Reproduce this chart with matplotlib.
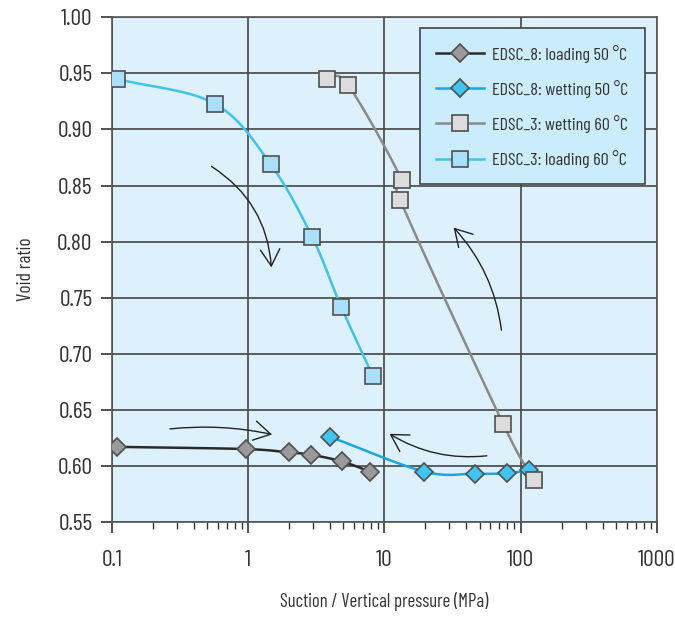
import numpy as np
import matplotlib
matplotlib.use("Agg")
import matplotlib.pyplot as plt
from matplotlib.ticker import FixedLocator, FixedFormatter, LogLocator, NullFormatter

plt.rcParams['font.family'] = ['Barlow Condensed', 'Roboto Condensed', 'DejaVu Sans']

# EDSC_8 loading at 50 C
load50_x = [0.108, 0.955, 1.98, 2.87, 4.86, 7.83]
load50_e = [0.617, 0.615, 0.612, 0.610, 0.604, 0.595]
# EDSC_8 wetting at 50 C
wet50_x = [3.97, 19.5, 45.9, 79.0, 116.0]
wet50_e = [0.626, 0.595, 0.593, 0.5935, 0.596]
# EDSC_3 wetting at 60 C
wet60_x = [3.76, 5.38, 13.4, 13.1, 74.8, 126.0]
wet60_e = [0.945, 0.940, 0.855, 0.837, 0.637, 0.587]
# EDSC_3 loading at 60 C
load60_x = [0.109, 0.566, 1.46, 2.95, 4.81, 8.24]
load60_e = [0.945, 0.923, 0.869, 0.804, 0.742, 0.680]


def smooth(xs, ys, n=20):
    # Catmull-Rom curve through the points, in (decades, void ratio) scaled to the axes box
    u = np.log10(xs) / 4.0 * 545
    v = np.asarray(ys) / 0.45 * 505
    p = np.column_stack([u, v])
    p = np.vstack([2 * p[0] - p[1], p, 2 * p[-1] - p[-2]])
    out = []
    for i in range(1, len(p) - 2):
        p0, p1, p2, p3 = p[i - 1], p[i], p[i + 1], p[i + 2]
        t = np.linspace(0, 1, n)[:, None]
        seg = 0.5 * ((2 * p1) + (-p0 + p2) * t + (2 * p0 - 5 * p1 + 4 * p2 - p3) * t**2
                     + (-p0 + 3 * p1 - 3 * p2 + p3) * t**3)
        out.append(seg)
    out = np.vstack(out)
    return 10 ** (out[:, 0] * 4.0 / 545), out[:, 1] * 0.45 / 505


fig = plt.figure(figsize=(6.75, 6.17), dpi=100)
ax = fig.add_axes([0.166, 0.154, 0.807, 0.818])
ax.set_facecolor('#dcf1fc')

series = [
    (load50_x, load50_e, '#2a2a2a', 'D', '#9a9a9a', 'EDSC_8: loading 50 °C', 9),
    (wet50_x, wet50_e, '#1aa6e0', 'D', '#3fc5f2', 'EDSC_8: wetting 50 °C', 9),
    (wet60_x, wet60_e, '#8a8a8a', 's', '#dcdcdc', 'EDSC_3: wetting 60 °C', 11.5),
    (load60_x, load60_e, '#3ec3ef', 's', '#a9dff8', 'EDSC_3: loading 60 °C', 11.5),
]
handles = []
for xs, es, lc, mk, fc, lab, ms in series:
    sx, sy = smooth(xs, es)
    ax.plot(sx, sy, color=lc, lw=1.8, zorder=3)
    ax.plot(xs, es, ls='none', marker=mk, ms=ms, mfc=fc, mec='#505050', mew=1.2, zorder=4)
    h, = ax.plot([], [], color=lc, lw=1.8, marker=mk, ms=ms, mfc=fc, mec='#505050', mew=1.2)
    handles.append(h)

# direction arrows
arrows = [
    ((0.538, 0.867), (1.479, 0.777), -0.25),
    ((72.3, 0.721), (32.2, 0.8125), 0.16),
    ((0.266, 0.633), (1.497, 0.628), -0.08),
    ((56.5, 0.609), (10.9, 0.6286), -0.17),
]
for start, end, rad in arrows:
    ax.annotate('', xy=end, xytext=start,
                arrowprops=dict(arrowstyle='->,head_length=0.6,head_width=0.35',
                                connectionstyle=f'arc3,rad={rad}', color='#222222',
                                lw=1.0, mutation_scale=20, shrinkA=0, shrinkB=0),
                zorder=5)

ax.set_xscale('log')
ax.set_xlim(0.1, 1000)
ax.set_ylim(0.55, 1.00)
ax.xaxis.set_major_locator(FixedLocator([0.1, 1, 10, 100, 1000]))
ax.xaxis.set_major_formatter(FixedFormatter(['0.1', '1', '10', '100', '1000']))
ax.xaxis.set_minor_locator(LogLocator(base=10, subs=np.arange(2, 10)))
ax.xaxis.set_minor_formatter(NullFormatter())
ax.set_yticks(np.arange(0.55, 1.001, 0.05))
ax.set_yticklabels([f'{v:.2f}' for v in np.arange(0.55, 1.001, 0.05)])

ax.grid(True, which='major', color='#454545', lw=1.2, zorder=1)
ax.set_axisbelow(True)
ax.tick_params(axis='both', which='major', direction='out', length=8, width=1.2,
               colors='#333333', labelsize=17, labelcolor='#333333')
ax.tick_params(axis='x', which='minor', direction='out', length=5, width=1.0, colors='#333333')
ax.tick_params(axis='x', pad=12)
ax.tick_params(axis='y', pad=6)
for s in ax.spines.values():
    s.set_color('#555555')
    s.set_linewidth(1.2)

ax.set_xlabel('Suction / Vertical pressure (MPa)', fontsize=13.5, color='#333333', labelpad=15)
ax.set_ylabel('Void ratio', fontsize=14, color='#333333', labelpad=16)

leg = ax.legend(handles, [s[5] for s in series], loc='upper right',
                bbox_to_anchor=(0.978, 0.978), borderaxespad=0, fontsize=13,
                fancybox=False, framealpha=1, facecolor='#cbedfb', edgecolor='#444444',
                handlelength=2.65, labelspacing=0.95, borderpad=0.9, handletextpad=0.45)
leg.get_frame().set_linewidth(1.2)
for t in leg.get_texts():
    t.set_color('#333333')

fig.savefig('out.png', dpi=100)
